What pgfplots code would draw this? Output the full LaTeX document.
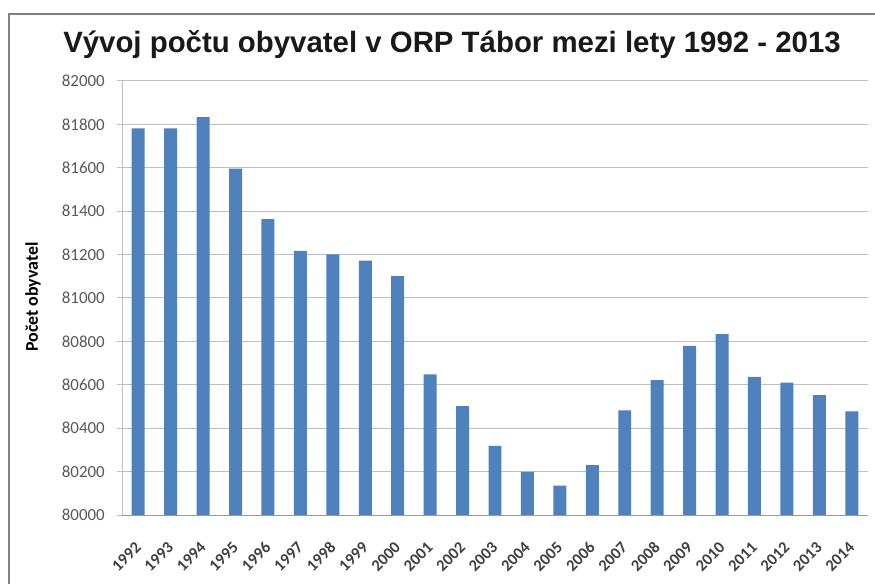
\documentclass[border=0pt]{standalone}
\usepackage{fontspec}
\setmainfont{Liberation Sans}
\newfontfamily\carlito{Carlito}
\usepackage{pgfplots}
\pgfplotsset{compat=1.18}
\definecolor{barblue}{HTML}{4F81BD}
\definecolor{gridgray}{HTML}{BFBFBF}
\definecolor{ticktext}{HTML}{595959}
\definecolor{xtext}{HTML}{404040}
\definecolor{framegray}{HTML}{808080}
\begin{document}
\begin{tikzpicture}
\useasboundingbox (0,0) rectangle (875bp,584bp);
\fill[white] (0,0) rectangle (875bp,584bp);
\draw[framegray, line width=2bp] (9bp,0) -- (9bp,570bp) -- (875bp,570bp);
\node[anchor=base, inner sep=0pt, font=\bfseries\fontsize{29.5}{34}\selectfont, text=black!90] at (452bp,531bp) {Vývoj počtu obyvatel v ORP Tábor mezi lety 1992 - 2013};
\node[rotate=90, inner sep=0pt, font=\carlito\bfseries\fontsize{18}{21}\selectfont] at (33bp,287bp) {Počet obyvatel};
\begin{axis}[
  at={(122bp,69bp)}, anchor=south west,
  scale only axis, width=746bp, height=434bp,
  xmin=-0.5, xmax=22.5, ymin=80000, ymax=82000,
  ytick distance=200, scaled y ticks=false,
  xtick={0,...,22},
  xticklabels={1992,1993,1994,1995,1996,1997,1998,1999,2000,2001,2002,2003,2004,2005,2006,2007,2008,2009,2010,2011,2012,2013,2014},
  axis lines*=left,
  axis line style={gridgray, line width=1bp},
  x axis line style={color=gray!80},
  ymajorgrids, grid style={gridgray, line width=1bp},
  major tick length=5bp, tick align=outside,
  xtick style={draw=none},
  ytick style={gridgray, line width=1bp},
  /pgf/number format/.cd, 1000 sep={}, assume math mode=true, /pgfplots/.cd,
  yticklabel style={font=\carlito\fontsize{17}{20}\selectfont, text=ticktext, inner sep=0pt, anchor=east, xshift=-12bp},
  xticklabel style={font=\carlito\bfseries\fontsize{16.5}{19}\selectfont, text=xtext, inner sep=0pt, yshift=-25bp, rotate=45, anchor=east},
  ybar, bar width=0.4,
]
\addplot[fill=barblue, draw=none] coordinates {
(0,81782) (1,81782) (2,81833) (3,81596) (4,81363) (5,81217) (6,81201) (7,81172) (8,81101)
(9,80648) (10,80502) (11,80319) (12,80199) (13,80135) (14,80230) (15,80482) (16,80622)
(17,80779) (18,80834) (19,80637) (20,80610) (21,80552) (22,80478)
};
\end{axis}
\end{tikzpicture}
\end{document}
